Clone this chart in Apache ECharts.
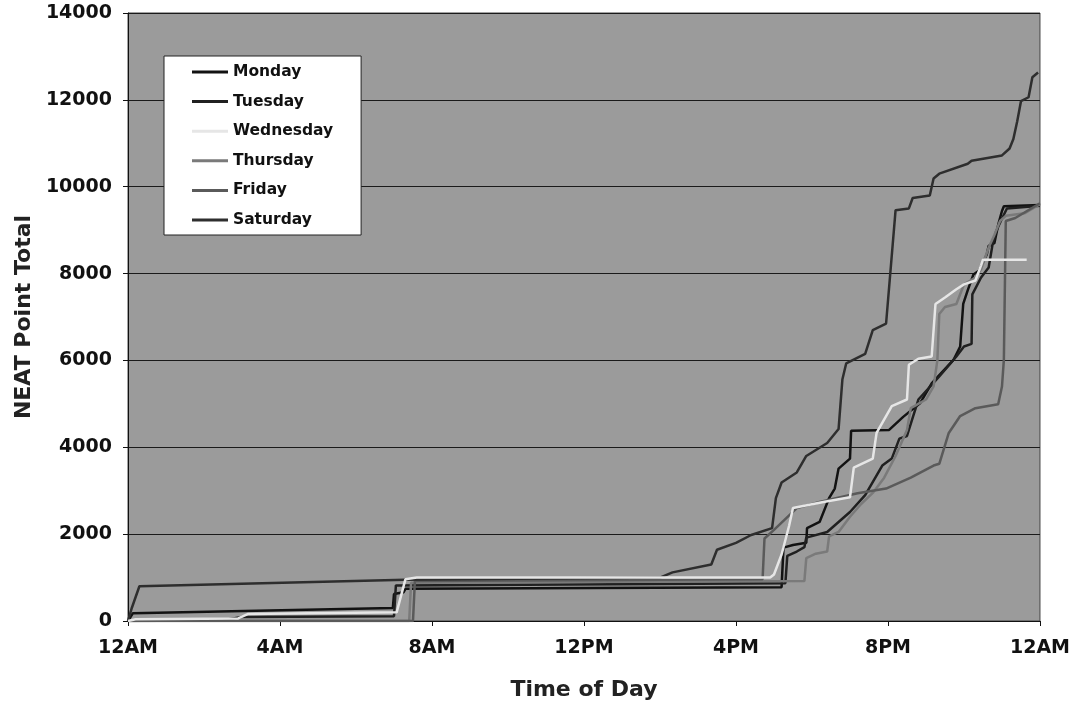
<!DOCTYPE html>
<html>
<head>
<meta charset="utf-8">
<script src="https://cdn.jsdelivr.net/npm/echarts@6/dist/echarts.min.js"></script>
<style>
html,body{margin:0;padding:0;background:#fff;}
#chart{width:1073px;height:706px;}
</style>
</head>
<body>
<div id="chart"></div>
<script>
// ---- data: [hour of day, NEAT point total] ----
const dayNames = ['Monday','Tuesday','Wednesday','Thursday','Friday','Saturday'];
const xTickLabels = ['12AM','4AM','8AM','12PM','4PM','8PM','12AM'];

const mondayPts = [[0,0],[0.13,180],[6.97,300],[7.0,620],[7.25,660],[7.3,740],[17.2,780],[17.25,1690],[17.5,1750],[17.85,1800],[17.87,2140],[18.2,2280],[18.45,2830],[18.6,3050],[18.7,3510],[19.0,3740],[19.03,4380],[20.03,4400],[20.4,4700],[20.85,5020],[21.15,5470],[21.73,6020],[21.9,6320],[21.98,7300],[22.1,7620],[22.25,7980],[22.4,8070],[22.6,8440],[22.65,8640],[22.8,8700],[22.9,9120],[23.0,9440],[23.05,9550],[24,9580]];

const tuesdayPts = [[0,0],[2.5,20],[3.0,90],[7.0,110],[7.05,820],[17.3,870],[17.35,1500],[17.6,1600],[17.8,1700],[17.85,1920],[18.4,2050],[18.7,2280],[19.0,2510],[19.4,2900],[19.85,3580],[20.1,3740],[20.3,4200],[20.5,4260],[20.8,5100],[21.35,5630],[21.8,6090],[22.0,6320],[22.2,6380],[22.22,7520],[22.45,7910],[22.65,8140],[22.75,8660],[22.85,8980],[22.97,9210],[23.13,9500],[24,9560]];

const wednesdayPts = [[0,0],[0.2,40],[2.9,60],[3.15,160],[7.07,200],[7.3,960],[7.6,1000],[16.9,1000],[17.0,1070],[17.2,1530],[17.4,2200],[17.5,2600],[18.3,2740],[19.0,2850],[19.1,3530],[19.6,3740],[19.7,4330],[19.95,4720],[20.1,4950],[20.5,5100],[20.55,5900],[20.8,6040],[21.15,6090],[21.25,7300],[21.5,7450],[21.8,7640],[22.0,7750],[22.3,7840],[22.45,8190],[22.5,8320],[23.65,8320]];

const thursdayPts = [[0,0],[7.4,0],[7.45,880],[17.8,920],[17.85,1450],[18.1,1550],[18.4,1600],[18.45,1950],[18.7,2050],[19.0,2400],[19.3,2700],[19.6,2950],[19.9,3300],[20.2,3800],[20.5,4400],[20.6,4900],[21.0,5100],[21.2,5400],[21.3,6000],[21.35,7070],[21.5,7230],[21.8,7300],[22.0,7750],[22.3,7910],[22.45,8100],[22.65,8600],[22.8,8890],[22.95,9210],[23.1,9330],[23.6,9390],[24,9600]];

const fridayPts = [[0,0],[7.5,0],[7.55,920],[16.7,960],[16.75,1900],[17.0,2100],[17.6,2600],[18.2,2740],[19.2,2940],[19.95,3050],[20.6,3300],[21.2,3580],[21.35,3620],[21.6,4330],[21.9,4720],[22.3,4900],[22.9,4990],[23.0,5400],[23.05,6020],[23.1,9210],[23.35,9280],[24,9620]];

const saturdayPts = [[0,0],[0.1,300],[0.3,800],[7.3,950],[14.0,1000],[14.33,1120],[15.35,1300],[15.5,1640],[16.0,1800],[16.4,1980],[16.95,2140],[17.05,2830],[17.2,3190],[17.6,3420],[17.85,3800],[18.4,4100],[18.7,4420],[18.8,5560],[18.9,5930],[19.4,6150],[19.6,6700],[19.95,6850],[20.2,9460],[20.55,9500],[20.65,9740],[21.1,9800],[21.2,10190],[21.35,10300],[22.1,10530],[22.2,10600],[23.0,10720],[23.2,10880],[23.3,11100],[23.4,11500],[23.5,11970],[23.7,12060],[23.8,12520],[23.95,12630]];

const allPts = [mondayPts, tuesdayPts, wednesdayPts, thursdayPts, fridayPts, saturdayPts];
const dayColors = ['#121212','#202020','#e6e6e6','#7a7a7a','#5a5a5a','#2e2e2e'];

const FONT = 'DejaVu Sans';
const chart = echarts.init(document.getElementById('chart'), null, {renderer:'canvas'});

const series = dayNames.map((name, i) => ({
  name: name,
  type: 'line',
  data: allPts[i],
  showSymbol: false,
  symbol: 'none',
  lineStyle: {color: dayColors[i], width: 2.5},
  itemStyle: {color: dayColors[i]},
  z: i === 2 ? 3 : 2
}));

chart.setOption({
  animation: false,
  backgroundColor: '#ffffff',
  grid: {
    left: 128, right: 32, top: 13, bottom: 79,
    show: true, backgroundColor: '#9b9b9b', borderColor: '#444', borderWidth: 1
  },
  legend: {
    data: dayNames,
    orient: 'vertical',
    left: 164, top: 56,
    backgroundColor: '#ffffff',
    borderColor: '#222', borderWidth: 1,
    padding: [7, 28, 6, 28],
    icon: 'rect',
    itemWidth: 36, itemHeight: 3,
    itemGap: 11.6,
    textStyle: {fontFamily: FONT, fontWeight: 'bold', fontSize: 15.5, color: '#111', lineHeight: 18}
  },
  xAxis: {
    type: 'value', min: 0, max: 24, interval: 4,
    name: 'Time of Day', nameLocation: 'middle', nameGap: 58,
    nameTextStyle: {fontFamily: FONT, fontWeight: 'bold', fontSize: 22, color: '#222'},
    axisLine: {show: true, lineStyle: {color: '#111', width: 1}},
    axisTick: {show: true, length: 5, lineStyle: {color: '#111'}},
    splitLine: {show: false},
    axisLabel: {
      margin: 18, fontFamily: FONT, fontWeight: 'bold', fontSize: 19, color: '#111',
      formatter: v => xTickLabels[Math.round(v / 4)]
    }
  },
  yAxis: {
    type: 'value', min: 0, max: 14000, interval: 2000,
    name: 'NEAT Point Total', nameLocation: 'middle', nameGap: 75, nameRotate: 90,
    nameTextStyle: {fontFamily: FONT, fontWeight: 'bold', fontSize: 22, color: '#222'},
    axisLine: {show: true, lineStyle: {color: '#111', width: 1}},
    axisTick: {show: true, length: 5, lineStyle: {color: '#111'}},
    splitLine: {show: true, lineStyle: {color: '#1a1a1a', width: 1.2}},
    axisLabel: {margin: 16, fontFamily: FONT, fontWeight: 'bold', fontSize: 19, color: '#111',
      formatter: v => String(v)}
  },
  series: series
});
</script>
</body>
</html>
